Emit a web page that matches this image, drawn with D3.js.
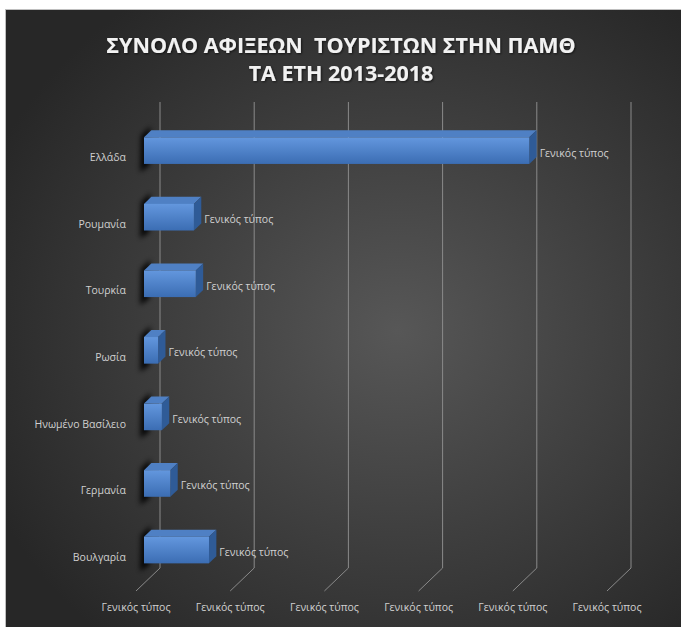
<!DOCTYPE html>
<html>
<head>
<meta charset="utf-8">
<script src="https://cdn.jsdelivr.net/npm/d3@7"></script>
<style>
  html, body { margin: 0; padding: 0; background: #fff; }
  svg { display: block; }
</style>
</head>
<body>
<svg id="chart"></svg>
<script>
var categories = ["Ελλάδα", "Ρουμανία", "Τουρκία", "Ρωσία", "Ηνωμένο Βασίλειο", "Γερμανία", "Βουλγαρία"];
var values = [4.09, 0.53, 0.55, 0.15, 0.19, 0.28, 0.69];
var tickValues = [0, 1, 2, 3, 4, 5];
var tickLabel = "Γενικός τύπος";
var titleLines = ["ΣΥΝΟΛΟ ΑΦΙΞΕΩΝ  ΤΟΥΡΙΣΤΩΝ ΣΤΗΝ ΠΑΜΘ", "ΤΑ ΕΤΗ 2013-2018"];

var width = 681, height = 627;
var svg = d3.select("#chart").attr("width", width).attr("height", height);

// depth of the 3d floor: back wall -> front edge
var depthX = -24, depthY = 23;
var barFront = 0.667, barBack = 0.36;

function proj(xb, yb, d) { return [xb + depthX * d, yb + depthY * d]; }

var x = d3.scaleLinear().domain([0, 5]).range([160, 631]);
var y = d3.scaleBand().domain(categories).range([102, 568]);

var defs = svg.append("defs");
var bg = defs.append("radialGradient").attr("id", "bg")
  .attr("cx", "58%").attr("cy", "52%").attr("r", "66%");
bg.append("stop").attr("offset", "0%").attr("stop-color", "#575757");
bg.append("stop").attr("offset", "100%").attr("stop-color", "#272727");

var fg = defs.append("linearGradient").attr("id", "front")
  .attr("x1", 0).attr("y1", 0).attr("x2", 0).attr("y2", 1);
fg.append("stop").attr("offset", "0%").attr("stop-color", "#6397de");
fg.append("stop").attr("offset", "100%").attr("stop-color", "#3b6db3");

defs.append("filter").attr("id", "blur")
  .attr("x", "-100%").attr("y", "-50%").attr("width", "300%").attr("height", "200%")
  .append("feGaussianBlur").attr("stdDeviation", 2.5);

defs.append("filter").attr("id", "tshadow")
  .append("feDropShadow").attr("dx", 1).attr("dy", 1).attr("stdDeviation", 1)
  .attr("flood-color", "#000").attr("flood-opacity", 0.6);

// frame
svg.append("rect").attr("x", 5.5).attr("y", 9.5).attr("width", width).attr("height", height)
  .attr("fill", "none").attr("stroke", "#bfbfbf");
svg.append("rect").attr("x", 6).attr("y", 10).attr("width", width - 6).attr("height", height - 10)
  .attr("fill", "url(#bg)");

// title
svg.append("g").selectAll("text").data(titleLines).enter().append("text")
  .attr("x", 341).attr("y", function(d, i) { return 53 + i * 28; })
  .attr("text-anchor", "middle")
  .style("white-space", "pre")
  .attr("font-family", "'Open Sans', sans-serif").attr("font-weight", "bold")
  .attr("font-size", 21.5).attr("fill", "#f2f2f2")
  .attr("filter", "url(#tshadow)")
  .text(function(d) { return d; });

// gridlines: back wall + floor
var grid = svg.append("g").attr("stroke", "#8a8a8a").attr("fill", "none").attr("stroke-width", 1);
grid.selectAll("path").data(tickValues).enter().append("path")
  .attr("d", function(d) {
    var top = proj(x(d), y.range()[0], 0), bot = proj(x(d), y.range()[1], 0), fr = proj(x(d), y.range()[1], 1);
    return "M" + top + "L" + bot + "L" + fr;
  });

// tick labels
svg.append("g").selectAll("text").data(tickValues).enter().append("text")
  .attr("x", function(d) { return proj(x(d), 0, 1)[0]; })
  .attr("y", 611)
  .attr("text-anchor", "middle")
  .attr("font-family", "'Open Sans', sans-serif").attr("font-size", 10.5)
  .attr("fill", "#d0d0d0")
  .text(tickLabel);

// category labels
svg.append("g").selectAll("text").data(categories).enter().append("text")
  .attr("x", 126)
  .attr("y", function(d) { return proj(0, y(d) + y.bandwidth() / 2, 1)[1] + 3; })
  .attr("text-anchor", "end")
  .attr("font-family", "'Open Sans', sans-serif").attr("font-size", 10.5)
  .attr("fill", "#d0d0d0")
  .text(function(d) { return d; });

// bars
var barH = y.step() * 0.4;
var rows = categories.map(function(c, i) { return {cat: c, val: values[i]}; });
var bars = svg.append("g").selectAll("g").data(rows).enter().append("g");

function pts(list) { return list.map(function(p) { return p.join(","); }).join(" "); }

bars.each(function(d) {
  var g = d3.select(this);
  var cy = y(d.cat) + y.bandwidth() / 2;
  var t = cy - barH / 2, b = cy + barH / 2;
  var x0 = x(0), x1 = x(d.val);
  var fTL = proj(x0, t, barFront), fTR = proj(x1, t, barFront), fBR = proj(x1, b, barFront), fBL = proj(x0, b, barFront);
  var bTL = proj(x0, t, barBack), bTR = proj(x1, t, barBack), bBR = proj(x1, b, barBack);
  // shadow on the left wall
  g.append("polygon")
    .attr("points", pts([[bTL[0] - 1, bTL[1] - 4], [fTL[0] - 3, fTL[1] - 2], [fBL[0] - 4, fBL[1] + 8], [bTL[0] - 2, fBL[1] + 2]]))
    .attr("fill", "#000").attr("opacity", 0.85).attr("filter", "url(#blur)");
  // top face
  g.append("polygon").attr("points", pts([fTL, fTR, bTR, bTL])).attr("fill", "#4f80c4");
  // right face
  g.append("polygon").attr("points", pts([fTR, bTR, bBR, fBR])).attr("fill", "#2f5b97");
  // front face
  g.append("rect").attr("x", fTL[0]).attr("y", fTL[1])
    .attr("width", fTR[0] - fTL[0]).attr("height", fBL[1] - fTL[1])
    .attr("fill", "url(#front)");
  // data label
  g.append("text")
    .attr("x", bTR[0] + 3).attr("y", cy + (depthY * barFront) + 6)
    .attr("font-family", "'Open Sans', sans-serif").attr("font-size", 10.5)
    .attr("fill", "#d0d0d0")
    .text(tickLabel);
});
</script>
</body>
</html>
